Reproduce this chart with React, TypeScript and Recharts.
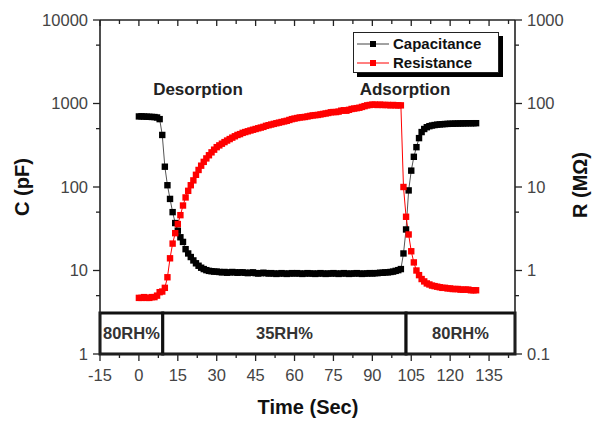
import React from 'react';
import { LineChart, Line, XAxis, YAxis, ReferenceArea, Label, Legend } from 'recharts';

const time = [
  0, 1, 2, 3, 4, 5, 6, 7, 8, 9,
  10, 11, 12, 13, 14, 15, 16, 17, 18, 19,
  20, 21, 22, 23, 24, 25, 26, 27, 28, 29,
  30, 31, 32, 33, 34, 35, 36, 37, 38, 39,
  40, 41, 42, 43, 44, 45, 46, 47, 48, 49,
  50, 51, 52, 53, 54, 55, 56, 57, 58, 59,
  60, 61, 62, 63, 64, 65, 66, 67, 68, 69,
  70, 71, 72, 73, 74, 75, 76, 77, 78, 79,
  80, 81, 82, 83, 84, 85, 86, 87, 88, 89,
  90, 91, 92, 93, 94, 95, 96, 97, 98, 99,
  100, 101, 102, 103, 104, 105, 106, 107, 108, 109,
  110, 111, 112, 113, 114, 115, 116, 117, 118, 119,
  120, 121, 122, 123, 124, 125, 126, 127, 128, 129, 130,
];

const capacitance = [
  700, 702, 698, 695, 693, 690, 688, 680, 650, 420,
  175, 105, 72, 50, 37, 30, 25, 22, 18, 16,
  14.5, 13.2, 12.2, 11.4, 10.8, 10.4, 10.1, 9.9, 9.8, 9.7,
  9.7, 9.6, 9.5, 9.6, 9.4, 9.5, 9.6, 9.5, 9.4, 9.5,
  9.5, 9.4, 9.3, 9.4, 9.5, 9.3, 9.2, 9.3, 9.4, 9.3,
  9.2, 9.3, 9.2, 9.1, 9.2, 9.3, 9.2, 9.1, 9.2, 9.3,
  9.2, 9.3, 9.2, 9.1, 9.2, 9.3, 9.2, 9.2, 9.1, 9.2,
  9.3, 9.2, 9.1, 9.2, 9.2, 9.3, 9.2, 9.1, 9.2, 9.3,
  9.2, 9.1, 9.2, 9.2, 9.3, 9.2, 9.1, 9.2, 9.2, 9.3,
  9.2, 9.3, 9.3, 9.4, 9.4, 9.5, 9.5, 9.6, 9.7, 9.9,
  10.1, 10.4, 16, 31, 91, 157, 230, 300, 385, 455,
  495, 520, 535, 545, 552, 558, 562, 565, 568, 570,
  572, 573, 575, 576, 577, 578, 579, 580, 580, 581, 581,
];

const resistance = [
  0.47, 0.47, 0.48, 0.47, 0.47, 0.48, 0.48, 0.5, 0.55, 0.56,
  0.62, 0.83, 1.4, 2.1, 2.8, 3.6, 4.6, 6.0, 7.5, 9,
  10.5, 12, 14, 16, 18, 20, 22, 24, 26, 28,
  30, 31.5, 33, 34.5, 36, 37.5, 39, 40.5, 42, 43,
  44.5, 45.5, 46.5, 47.5, 48.5, 49.5, 50.5, 51.5, 52.5, 54,
  55, 56, 57, 58, 59, 60, 61, 62, 63.5, 65,
  66, 67, 68, 68.5, 69, 70, 71, 72, 72.5, 73,
  74, 75, 76, 77, 78.5, 79, 79, 80, 82, 83,
  82, 84, 86, 87, 88, 89, 91, 93, 95, 96,
  97, 97, 96, 97, 96, 96, 96, 95, 96, 95,
  95, 95, 10, 4.4, 2.7, 1.7, 1.25, 1.0, 0.88, 0.79,
  0.74, 0.7, 0.68, 0.66, 0.65, 0.64, 0.63, 0.62, 0.62, 0.61,
  0.61, 0.6, 0.6, 0.6, 0.59, 0.59, 0.59, 0.59, 0.58, 0.58, 0.58,
];

const xTicks = [-15, -7.5, 0, 7.5, 15, 22.5, 30, 37.5, 45, 52.5, 60, 67.5, 75, 82.5, 90, 97.5, 105, 112.5, 120, 127.5, 135, 142.5];
const xMajor = [-15, 0, 15, 30, 45, 60, 75, 90, 105, 120, 135];
const cTicks = [1, 5, 10, 50, 100, 500, 1000, 5000, 10000];
const cMajor = [1, 10, 100, 1000, 10000];
const rTicks = [0.1, 0.5, 1, 5, 10, 50, 100, 500, 1000];
const rMajor = [0.1, 1, 10, 100, 1000];

const phaseLabels = ['80RH%', '35RH%', '80RH%'];
const phaseStarts = [-15, 9.2, 103];
const phaseEnds = [9.2, 103, 145];
const phaseTop = 3.1;

const data = time.map((t, i) => ({ t, c: capacitance[i], r: resistance[i] }));

const FONT = '"Liberation Sans", Arial, Helvetica, sans-serif';
const AXIS = '#222';
const TICKTXT = '#444';

const BottomTick = (props: any) => {
  const { x, y, payload } = props;
  const major = xMajor.includes(payload.value);
  return (
    <g>
      <line x1={x} x2={x} y1={y} y2={y + (major ? 7 : 4)} stroke={AXIS} strokeWidth={1.3} />
      {major && (
        <text x={x} y={y + 21} dy="0.35em" textAnchor="middle" fontSize={16.5} fontFamily={FONT} fill={TICKTXT}>
          {String(payload.value)}
        </text>
      )}
    </g>
  );
};

const TopTick = (props: any) => {
  const { x, y, payload } = props;
  const major = xMajor.includes(payload.value);
  return <line x1={x} x2={x} y1={y} y2={y + (major ? 6 : 4)} stroke={AXIS} strokeWidth={1.3} />;
};

const LeftTick = (props: any) => {
  const { x, y, payload } = props;
  const major = cMajor.includes(payload.value);
  return (
    <g>
      <line x1={x} x2={x - (major ? 7 : 4)} y1={y} y2={y} stroke={AXIS} strokeWidth={1.3} />
      {major && (
        <text x={x - 12} y={y} dy="0.35em" textAnchor="end" fontSize={16.5} fontFamily={FONT} fill={TICKTXT}>
          {String(payload.value)}
        </text>
      )}
    </g>
  );
};

const RightTick = (props: any) => {
  const { x, y, payload } = props;
  const major = rMajor.includes(payload.value);
  return (
    <g>
      <line x1={x} x2={x + (major ? 7 : 4)} y1={y} y2={y} stroke={AXIS} strokeWidth={1.3} />
      {major && (
        <text x={x + 12} y={y} dy="0.35em" textAnchor="start" fontSize={16.5} fontFamily={FONT} fill={TICKTXT}>
          {String(payload.value)}
        </text>
      )}
    </g>
  );
};

const squareDot = (color: string) => (props: any) => {
  const { cx, cy, index } = props;
  if (cx == null || cy == null) return <g key={`d${index}`} />;
  return <rect key={`d${index}`} x={cx - 3.2} y={cy - 3.2} width={6.4} height={6.4} fill={color} />;
};

const LegendIcon = ({ color, lineColor }: { color: string; lineColor: string }) => (
  <svg width={32} height={10} style={{ display: 'block' }}>
    <line x1={0} x2={32} y1={5} y2={5} stroke={lineColor} strokeWidth={1} />
    <rect x={13} y={2} width={6} height={6} fill={color} />
  </svg>
);

const LegendBox = () => (
  <div
    style={{
      width: 146,
      height: 41,
      border: '1px solid #222',
      background: '#fff',
      boxShadow: '4px 4px 0 #000',
      fontFamily: FONT,
      fontWeight: 'bold',
      fontSize: 15,
      color: '#111',
      boxSizing: 'border-box',
      paddingTop: 1,
    }}
  >
    <div style={{ display: 'flex', alignItems: 'center', height: 19, paddingLeft: 3 }}>
      <LegendIcon color="#000" lineColor="#444" />
      <span style={{ marginLeft: 4 }}>Capacitance</span>
    </div>
    <div style={{ display: 'flex', alignItems: 'center', height: 19, paddingLeft: 3 }}>
      <LegendIcon color="#ff0000" lineColor="#ff0000" />
      <span style={{ marginLeft: 4 }}>Resistance</span>
    </div>
  </div>
);

export default function App() {
  return (
    <div style={{ position: 'absolute', left: 0, top: 0, width: 592, height: 421, background: '#fff' }}>
      <LineChart width={592} height={421} data={data} margin={{ top: 10, right: 17, bottom: 37, left: 40 }}>
        <XAxis
          dataKey="t"
          type="number"
          domain={[-15, 145]}
          ticks={xTicks}
          allowDataOverflow
          height={30}
          tickSize={0}
          tickMargin={0}
          tickLine={false}
          axisLine={{ stroke: AXIS, strokeWidth: 1.6 }}
          tick={<BottomTick />}
          interval={0}
        />
        <XAxis
          xAxisId="top"
          orientation="top"
          dataKey="t"
          type="number"
          domain={[-15, 145]}
          ticks={xTicks}
          allowDataOverflow
          height={10}
          tickSize={0}
          tickMargin={0}
          tickLine={false}
          axisLine={{ stroke: AXIS, strokeWidth: 1.6 }}
          tick={<TopTick />}
          interval={0}
        />
        <YAxis
          yAxisId="left"
          scale="log"
          type="number"
          domain={[1, 10000]}
          ticks={cTicks}
          allowDataOverflow
          width={60}
          tickSize={0}
          tickMargin={0}
          tickLine={false}
          axisLine={{ stroke: AXIS, strokeWidth: 1.6 }}
          tick={<LeftTick />}
          interval={0}
        />
        <YAxis
          yAxisId="right"
          orientation="right"
          scale="log"
          type="number"
          domain={[0.1, 1000]}
          ticks={rTicks}
          allowDataOverflow
          width={60}
          tickSize={0}
          tickMargin={0}
          tickLine={false}
          axisLine={{ stroke: AXIS, strokeWidth: 1.6 }}
          tick={<RightTick />}
          interval={0}
        />
        {phaseLabels.map((lab, i) => (
          <ReferenceArea
            key={`ph${i}`}
            yAxisId="left"
            x1={phaseStarts[i]}
            x2={phaseEnds[i]}
            y1={1}
            y2={phaseTop}
            stroke="#111"
            strokeWidth={3}
            fill="#fff"
            fillOpacity={1}
          >
            <Label value={lab} position="center" fontSize={16.5} fontWeight="bold" fill="#333" fontFamily={FONT} />
          </ReferenceArea>
        ))}
        <Line
          yAxisId="left"
          dataKey="c"
          name="Capacitance"
          stroke="#555"
          strokeWidth={1}
          dot={squareDot('#000')}
          activeDot={false}
          isAnimationActive={false}
        />
        <Line
          yAxisId="right"
          dataKey="r"
          name="Resistance"
          stroke="#ff0000"
          strokeWidth={1}
          dot={squareDot('#ff0000')}
          activeDot={false}
          isAnimationActive={false}
        />
        <Legend
          layout="horizontal"
          verticalAlign="middle"
          align="center"
          content={() => <LegendBox />}
          wrapperStyle={{ position: 'absolute', left: 353, top: 32, width: 151, height: 46 }}
        />
      </LineChart>
      <svg width={592} height={421} style={{ position: 'absolute', left: 0, top: 0, pointerEvents: 'none' }}>
        <text x={198} y={89} dy="0.35em" textAnchor="middle" fontFamily={FONT} fontWeight="bold" fontSize={17} fill="#222">
          Desorption
        </text>
        <text x={405} y={89} dy="0.35em" textAnchor="middle" fontFamily={FONT} fontWeight="bold" fontSize={17} fill="#222">
          Adsorption
        </text>
        <text x={308} y={407} dy="0.35em" textAnchor="middle" fontFamily={FONT} fontWeight="bold" fontSize={20} fill="#111">
          Time (Sec)
        </text>
        <text x={22} y={187} dy="0.35em" textAnchor="middle" fontFamily={FONT} fontWeight="bold" fontSize={20} fill="#111" transform="rotate(-90 22 187)">
          C (pF)
        </text>
        <text x={580} y={185} dy="0.35em" textAnchor="middle" fontFamily={FONT} fontWeight="bold" fontSize={20} fill="#111" transform="rotate(-90 580 185)">
          R (MΩ)
        </text>
      </svg>
    </div>
  );
}
